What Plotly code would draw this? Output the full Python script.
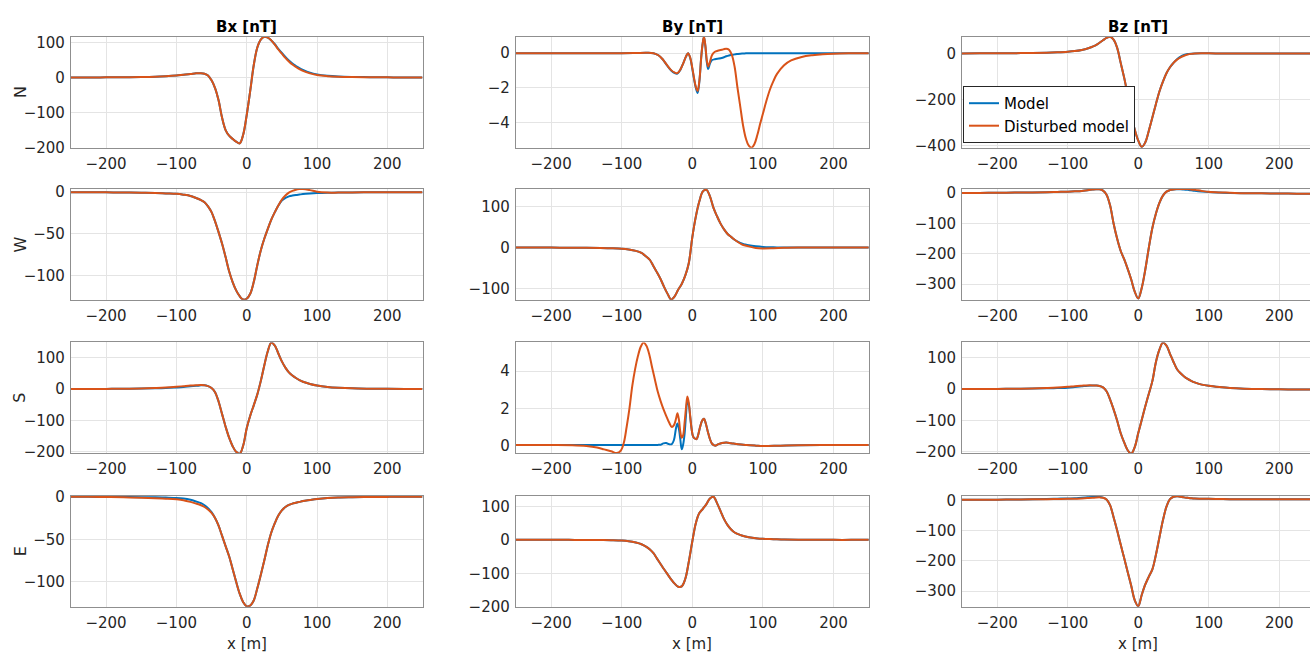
import plotly.graph_objects as go
from plotly.subplots import make_subplots

# Profile positions [m]
X = [-250, -225, -200, -175, -150, -130, -115, -100, -90, -80,
     -72, -65, -60, -55, -50, -45, -40, -35, -30, -25,
     -20, -15, -10, -5, 0, 5, 10, 15, 20, 25,
     30, 35, 40, 45, 50, 55, 60, 65, 70, 75,
     80, 90, 100, 115, 130, 150, 175, 200, 225, 250]

# Finer profile positions for the By (N) panel
XN = [-250, -200, -150, -100, -80, -65, -55, -48, -42, -36,
      -30, -25, -21, -17, -13, -9, -6, -3, 0, 2.5,
      5, 7.5, 10, 12.5, 14.5, 16.5, 18.5, 20.5, 22.5, 25,
      28, 32, 36, 40, 44, 48, 52, 56, 60, 64,
      68, 72, 76, 80, 84, 88, 92, 96, 100, 105,
      110, 115, 120, 130, 140, 155, 170, 185, 200, 225,
      250]

# Finer profile positions for the By (S) panel
XS = [-250, -200, -170, -150, -135, -125, -115, -107, -101, -97,
      -93, -89, -85, -81, -77, -73, -69, -65, -61, -57,
      -53, -49, -45, -41, -37, -33, -29, -26, -23, -21,
      -19, -17, -15, -13, -11, -9, -7, -5, -3, -1,
      1, 3.5, 6, 8.5, 11, 14, 16.5, 19, 22, 25,
      28, 32, 37, 42, 48, 55, 65, 77, 90, 100,
      125, 150, 200, 250]

# ---- Bx [nT] ----
bx_n_model = [0, 0, 0.5, 1, 1.5, 2.5, 4, 6, 8, 10,
              12, 12.5, 11, 6, -8, -30, -65, -115, -150, -166,
              -175, -183, -188, -163, -107, -38, 35, 85, 108, 116,
              114, 106, 95, 82, 70, 59, 49, 40, 33, 27,
              22, 14, 9, 5, 3, 1.8, 1, 0.5, 0, 0]
bx_n_dist = [0, 0, 0.5, 1, 1.5, 2.5, 4, 6, 8, 10,
             12, 12.5, 11, 6, -8, -30, -65, -115, -150, -166,
             -175, -183, -188, -163, -107, -38, 35, 85, 108, 116,
             114, 106, 94, 80, 68, 56, 46, 37, 30, 24,
             19, 12, 7, 4, 2.5, 1.5, 1, 0.5, 0, 0]

bx_w_model = [0, 0, -0.2, -0.4, -0.7, -1, -1.5, -2, -3, -4.5,
              -7, -9.5, -12, -17, -24, -35, -48, -62, -78, -95,
              -108, -118, -125, -129, -128, -122, -108, -88, -70, -56,
              -44, -33, -24, -16, -10, -7, -5, -4, -3.3, -2.8,
              -2.3, -1.6, -1.1, -0.7, -0.5, -0.3, -0.2, -0.1, 0, 0]
bx_w_dist = [0, 0, -0.2, -0.4, -0.7, -1, -1.5, -2, -3, -4.5,
             -7, -9.5, -12, -17, -24, -35, -48, -62, -78, -95,
             -108, -118, -125, -129, -128, -122, -108, -88, -70, -56,
             -44, -33, -24, -16, -9, -4, -0.5, 1.5, 3, 3.7,
             3.9, 2.5, 0.5, -0.5, -0.5, -0.3, -0.2, -0.1, 0, 0]

bx_s_model = [0, 0, 0.3, 0.7, 1.5, 2, 3, 5, 6.5, 8.5,
              10, 11.5, 12, 9, 3, -10, -40, -80, -120, -155,
              -182, -200, -206, -180, -125, -85, -52, -18, 25, 75,
              120, 148, 138, 113, 88, 68, 53, 43, 35, 28,
              23, 16, 11, 6.5, 4, 2, 1, 0.5, 0.2, 0]
bx_s_dist = [0, 0, 0.3, 0.7, 1.5, 3, 4.5, 7, 9, 11,
             12, 12.5, 12, 9, 3, -10, -40, -80, -120, -155,
             -182, -200, -206, -180, -125, -85, -52, -18, 25, 75,
             120, 148, 138, 113, 88, 68, 53, 43, 35, 28,
             23, 16, 11, 6.5, 4, 2, 1, 0.5, 0.2, 0]

bx_e_model = [0, 0, -0.2, -0.3, -0.4, -0.6, -0.9, -1.3, -2, -3.5,
              -5.5, -7.5, -10, -13.5, -18, -25, -34, -46, -58, -70,
              -85, -100, -114, -124, -129, -128, -122, -108, -92, -75,
              -57, -42, -31, -22, -16, -12, -9.5, -8, -7, -6,
              -5, -3.8, -2.7, -1.5, -0.8, -0.5, -0.3, -0.1, 0, 0]
bx_e_dist = [0, 0, -0.3, -0.6, -1, -1.6, -2.2, -3, -4, -6,
             -8, -10, -12, -15, -19, -25, -34, -46, -58, -70,
             -85, -100, -114, -124, -129, -128, -122, -108, -92, -75,
             -57, -42, -31, -22, -16, -12, -9.5, -8, -7, -6,
             -5, -3.8, -2.7, -1.5, -0.8, -0.5, -0.3, -0.1, 0, 0]

# ---- By [nT] ----
by_n_model = [0, 0, 0, 0, 0.01, 0.02, 0, -0.12, -0.35, -0.7,
              -1.0, -1.15, -1.18, -0.97, -0.6, -0.2, 0, -0.27, -0.9, -1.5,
              -2.0, -2.3, -1.65, -0.3, 0.5, 0.94, 0.4, -0.5, -0.92, -0.6,
              -0.4, -0.35, -0.32, -0.3, -0.25, -0.18, -0.13, -0.1, -0.07, -0.05,
              -0.03, -0.02, -0.01, 0, 0, 0, 0, 0, 0, 0,
              0, 0, 0, 0, 0, 0, 0, 0, 0, 0,
              0]
by_n_dist = [0, 0, 0, 0, 0.01, 0.02, 0, -0.12, -0.35, -0.68,
             -0.98, -1.12, -1.15, -0.95, -0.6, -0.2, 0, -0.25, -0.85, -1.45,
             -1.95, -2.18, -1.6, -0.3, 0.5, 0.96, 0.45, -0.4, -0.77, -0.5,
             -0.1, 0.08, 0.14, 0.18, 0.22, 0.26, 0.2, -0.1, -0.8, -2.0,
             -3.1, -4.2, -4.95, -5.35, -5.46, -5.25, -4.75, -4.1, -3.5, -2.75,
             -2.1, -1.6, -1.2, -0.7, -0.42, -0.22, -0.12, -0.06, -0.03, -0.01,
             0]

by_w_model = [0, 0, 0, -0.2, -0.5, -1, -1.5, -2.5, -4.5, -8,
              -13, -22, -30, -45, -60, -76, -95, -112, -126, -118,
              -102, -88, -68, -38, 25, 75, 112, 136, 140, 124,
              96, 76, 58, 44, 33, 26, 19, 14, 10, 7.5,
              5.5, 3, 1.5, 0.7, 0.2, 0, 0, 0, 0, 0]
by_w_dist = [0, 0, 0, -0.2, -0.5, -1, -1.5, -2.5, -4.5, -8,
             -13, -22, -30, -45, -60, -76, -95, -112, -126, -118,
             -102, -88, -68, -38, 25, 75, 112, 136, 140, 124,
             96, 76, 58, 44, 33, 26, 19, 13, 8, 5,
             3, -1, -2, -1.5, -0.5, 0, 0, 0, 0, 0]

by_s_model = [0.03, 0.03, 0.03, 0.03, 0.03, 0.03, 0.03, 0.03, 0.03, 0.03,
              0.03, 0.03, 0.03, 0.03, 0.03, 0.03, 0.03, 0.03, 0.03, 0.03,
              0.03, 0.04, 0.05, 0.12, 0.14, 0.08, 0.08, 0.3, 0.95, 1.18,
              0.9, 0.35, -0.2, 0.05, 0.6, 1.6, 2.4, 2.2, 1.55, 0.9,
              0.5, 0.38, 0.35, 0.6, 1.0, 1.35, 1.44, 1.2, 0.75, 0.35,
              0.1, 0.0, 0.08, 0.14, 0.17, 0.13, 0.07, 0.03, 0.0, -0.02,
              0, 0.02, 0.03, 0.03]
by_s_dist = [0.03, 0.03, 0.02, -0.02, -0.1, -0.2, -0.3, -0.4, -0.25, 0.15,
             1.0, 2.0, 3.2, 4.1, 4.8, 5.3, 5.53, 5.35, 4.9, 4.2,
             3.55, 2.9, 2.4, 1.97, 1.6, 1.25, 1.0, 1.1, 1.45, 1.74,
             1.4, 0.75, 0.42, 0.55, 1.2, 2.0, 2.64, 2.3, 1.6, 0.9,
             0.5, 0.38, 0.35, 0.6, 1.0, 1.35, 1.44, 1.2, 0.75, 0.35,
             0.1, 0.0, 0.08, 0.14, 0.17, 0.13, 0.07, 0.03, 0.0, -0.02,
             0, 0.02, 0.03, 0.03]

by_e_model = [0, 0, 0, 0, -0.3, -0.6, -1, -2, -4, -8,
              -13, -21, -29, -40, -56, -72, -88, -103, -118, -131,
              -140, -139, -117, -66, -5, 50, 80, 93, 107, 124,
              129, 110, 86, 62, 44, 31, 22, 17, 13, 10,
              8, 5, 3, 2, 1, 0.5, 0.2, 0, 0, 0]
by_e_dist = list(by_e_model)

# ---- Bz [nT] ----
bz_n_model = [0, 0.3, 0.6, 1, 2, 3, 4.5, 7, 10, 15,
              21, 29, 36, 46, 57, 67, 72, 60, 25, -40,
              -105, -180, -260, -330, -378, -405, -385, -335, -278, -220,
              -165, -122, -86, -60, -41, -25, -14, -7, -3, -1,
              0, 0.3, 0.2, 0, 0, 0, 0, 0, 0, 0]
bz_n_dist = [0, 0.3, 0.6, 1, 2, 3, 4.5, 7, 10, 15,
             21, 29, 36, 46, 57, 67, 72, 60, 25, -40,
             -105, -180, -260, -330, -378, -405, -385, -335, -278, -220,
             -165, -122, -86, -60, -41, -27, -17, -10, -5, -2,
             -0.5, 0.5, 0.3, 0, 0, 0, 0, 0, 0, 0]

bz_w_model = [1, 1, 1.5, 2, 2.5, 3, 4, 5, 6, 7.5,
              10, 12, 13, 12.5, 8.5, -5, -40, -100, -150, -190,
              -218, -250, -285, -325, -348, -312, -252, -180, -115, -68,
              -32, -8, 5, 10, 12.5, 13, 13, 12, 11, 9.5,
              8, 5.5, 3.5, 2, 1, 0, -0.5, -1, -1.5, -2]
bz_w_dist = [1, 1, 1.5, 2, 2.5, 3, 4, 5, 6, 7.5,
             10, 12, 13, 12.5, 8.5, -5, -40, -100, -150, -190,
             -218, -250, -285, -325, -348, -312, -252, -180, -115, -68,
             -32, -8, 5, 10, 12.5, 13.5, 14, 14, 13.5, 12.5,
             11, 7.5, 4.5, 2.5, 1.5, 0, -0.5, -1, -1.5, -2]

bz_s_model = [0, 0, 0.3, 0.7, 1.5, 2, 3, 4, 6, 8.5,
              10.5, 11.5, 11, 9.5, 5, -7, -33, -65, -100, -140,
              -170, -195, -206, -185, -140, -98, -55, -15, 25, 85,
              125, 148, 138, 112, 86, 63, 50, 40, 32, 26,
              21, 14, 10, 6, 3, 1, 0, -1, -1.5, -2]
bz_s_dist = [0, 0, 0.3, 0.7, 1.5, 3, 4.5, 7, 9, 10.5,
             11.5, 11.5, 11, 9.5, 5, -7, -33, -65, -100, -140,
             -170, -195, -206, -185, -140, -98, -55, -15, 25, 85,
             125, 148, 138, 112, 86, 63, 50, 40, 32, 26,
             21, 14, 10, 6, 3, 1, 0, -1, -1.5, -2]

bz_e_model = [3, 3, 3.5, 4, 4.5, 5.5, 6.5, 7.5, 8, 10,
              11, 12, 12.5, 12, 10, 4, -15, -55, -98, -145,
              -190, -237, -282, -330, -350, -312, -278, -252, -228, -180,
              -122, -65, -20, 5, 13, 15, 13, 11, 9.5, 8,
              7, 6.5, 6, 5.5, 5, 5, 4.5, 4.5, 4.5, 4.5]
bz_e_dist = [3, 3, 3.5, 4, 4.5, 5, 5.5, 6, 6.5, 7.5,
             8.5, 9.5, 10.5, 11, 10, 4, -15, -55, -98, -145,
             -190, -237, -282, -330, -350, -312, -278, -252, -228, -180,
             -122, -65, -20, 5, 13, 15, 13, 11, 9.5, 8,
             7, 6.5, 6, 5.5, 5, 5, 4.5, 4.5, 4.5, 4.5]

components = ["Bx [nT]", "By [nT]", "Bz [nT]"]
directions = ["N", "W", "S", "E"]
x_ticks = [-200, -100, 0, 100, 200]

# (x, model, disturbed, y-range, y-ticks) in row-major order
panels = [
    (X, bx_n_model, bx_n_dist, [-200, 117], [-200, -100, 0, 100]),
    (XN, by_n_model, by_n_dist, [-5.46, 0.96], [-4, -2, 0]),
    (X, bz_n_model, bz_n_dist, [-408, 73], [-400, -200, 0]),
    (X, bx_w_model, bx_w_dist, [-129.3, 3.9], [-100, -50, 0]),
    (X, by_w_model, by_w_dist, [-126.4, 142], [-100, 0, 100]),
    (X, bz_w_model, bz_w_dist, [-352, 14], [-300, -200, -100, 0]),
    (X, bx_s_model, bx_s_dist, [-204, 148], [-200, -100, 0, 100]),
    (XS, by_s_model, by_s_dist, [-0.40, 5.53], [0, 2, 4]),
    (X, bz_s_model, bz_s_dist, [-204, 148], [-200, -100, 0, 100]),
    (X, bx_e_model, bx_e_dist, [-129.4, 1.1], [-100, -50, 0]),
    (X, by_e_model, by_e_dist, [-200, 131.6], [-200, -100, 0, 100]),
    (X, bz_e_model, bz_e_dist, [-352, 16], [-300, -200, -100, 0]),
]

W, H = 1310, 663
BLUE = "#0072BD"
ORANGE = "#D95319"
FONT = "DejaVu Sans"
TXT = "#262626"
AXIS = "#8f8f8f"
GRID = "#e4e4e4"

# axes boxes in pixels; the third column runs past the right page edge
col_px = [(70.9, 422.5), (515.8, 868.8), (962.0, 1310.0)]
col_xrange = [[-250, 250], [-250, 250], [-250, 243.6]]
row_px = [(29.3, 143.3), (185.7, 299.5), (343.3, 456.8), (500.7, 614.5)]

fig = make_subplots(rows=4, cols=3)

for i, (xv, ym, yd, yr, yt) in enumerate(panels):
    r, c = divmod(i, 3)
    first = i == 0
    fig.add_trace(go.Scatter(x=xv, y=ym, mode="lines", name="Model",
                             line=dict(color=BLUE, width=2, shape="spline"),
                             showlegend=first),
                  row=r + 1, col=c + 1)
    fig.add_trace(go.Scatter(x=xv, y=yd, mode="lines", name="Disturbed model",
                             line=dict(color=ORANGE, width=2, shape="spline"),
                             showlegend=first),
                  row=r + 1, col=c + 1)
    suffix = "" if i == 0 else str(i + 1)
    x0, x1 = col_px[c]
    y0, y1 = row_px[r]
    fig.layout["xaxis" + suffix].update(
        domain=[x0 / W, x1 / W], range=col_xrange[c], tickvals=x_ticks,
        showgrid=True, gridcolor=GRID, zeroline=False,
        showline=True, linecolor=AXIS, linewidth=1, mirror=True,
        ticks="", ticklabelstandoff=2,
        tickfont=dict(family=FONT, size=15, color=TXT))
    fig.layout["yaxis" + suffix].update(
        domain=[1 - y1 / H, 1 - y0 / H], range=yr, tickvals=yt,
        showgrid=True, gridcolor=GRID, zeroline=False,
        showline=True, linecolor=AXIS, linewidth=1,
        mirror=(c != 2), ticks="", ticklabelstandoff=2,
        tickfont=dict(family=FONT, size=15, color=TXT))


def zero_px(c):
    """Pixel position of x = 0 in column c."""
    lo, hi = col_xrange[c]
    x0, x1 = col_px[c]
    return x0 + (0 - lo) * (x1 - x0) / (hi - lo)


annotations = []
for c, name in enumerate(components):
    cx = zero_px(c)
    annotations.append(dict(text="<b>%s</b>" % name, x=cx / W, y=1 - 20 / H,
                            xref="paper", yref="paper", showarrow=False,
                            xanchor="center", yanchor="middle",
                            font=dict(family=FONT, size=15, color="#000000")))
    annotations.append(dict(text="x [m]", x=cx / W, y=1 - 653 / H,
                            xref="paper", yref="paper", showarrow=False,
                            xanchor="center", yanchor="middle",
                            font=dict(family=FONT, size=15, color=TXT)))
for r, d in enumerate(directions):
    cy = (row_px[r][0] + row_px[r][1]) / 2
    annotations.append(dict(text=d, x=20 / W, y=1 - cy / H, textangle=-90,
                            xref="paper", yref="paper", showarrow=False,
                            xanchor="center", yanchor="middle",
                            font=dict(family=FONT, size=16, color=TXT)))

fig.update_layout(
    width=W, height=H, autosize=False,
    margin=dict(l=0, r=0, t=0, b=0),
    paper_bgcolor="white", plot_bgcolor="white",
    annotations=annotations,
    legend=dict(x=963 / W, y=1 - 80 / H, xanchor="left", yanchor="top",
                bgcolor="white", bordercolor=TXT, borderwidth=1,
                font=dict(family=FONT, size=15, color="#000000"),
                tracegroupgap=0, itemwidth=30),
)

fig.write_html("out.html")
